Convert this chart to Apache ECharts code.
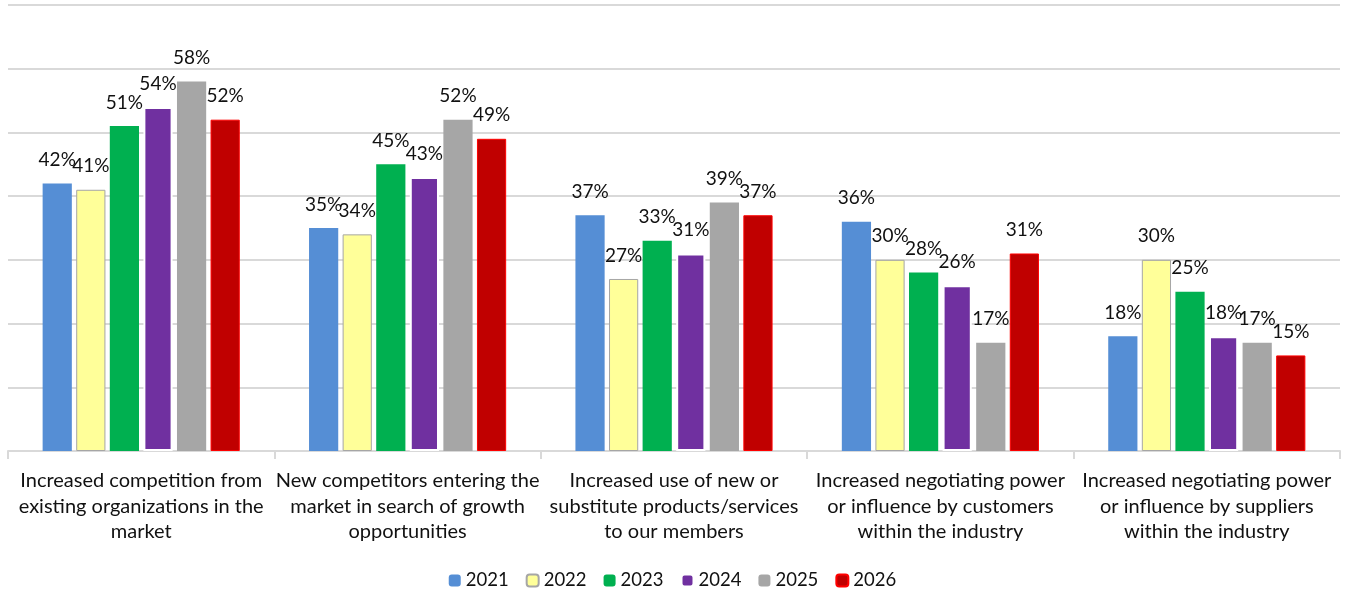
<!DOCTYPE html>
<html>
<head>
<meta charset="utf-8">
<script src="https://cdn.jsdelivr.net/npm/echarts@6/dist/echarts.min.js"></script>
<style>
  html, body { margin: 0; padding: 0; background: #fff; }
  #chart { width: 1345px; height: 596px; }
</style>
</head>
<body>
<div id="chart"></div>
<script>
// Competitive pressures, share of respondents by survey year
const categories = [
  'Increased competition from\nexisting organizations in the\nmarket',
  'New competitors entering the\nmarket in search of growth\nopportunities',
  'Increased use of new or\nsubstitute products/services\nto our members',
  'Increased negotiating power\nor influence by customers\nwithin the industry',
  'Increased negotiating power\nor influence by suppliers\nwithin the industry'
];
const years = ['2021', '2022', '2023', '2024', '2025', '2026'];
const values2021 = [42, 35, 37, 36, 18];
const values2022 = [41, 34, 27, 30, 30];
const values2023 = [51, 45, 33, 28, 25];
const values2024 = [54, 43, 31, 26, 18];
const values2025 = [58, 52, 39, 17, 17];
const values2026 = [52, 49, 37, 31, 15];

const seriesValues = [values2021, values2022, values2023, values2024, values2025, values2026];
const colors = ['#558ED5', '#FFFF99', '#00B050', '#7030A0', '#A6A6A6', '#C00000'];
const borders = [
  { borderColor: '#558ED5', borderWidth: 0 },
  { borderColor: '#A6A6A6', borderWidth: 1 },
  { borderColor: '#00B050', borderWidth: 0 },
  { borderColor: '#FFFFFF', borderWidth: 2 },
  { borderColor: '#A6A6A6', borderWidth: 0 },
  { borderColor: '#FF0000', borderWidth: 1 }
];

const FONT = 'Lato, Carlito, "Liberation Sans", sans-serif';
const TEXT = '#111111';

const chart = echarts.init(document.getElementById('chart'));
chart.setOption({
  animation: false,
  textStyle: { fontFamily: FONT },
  grid: { left: 8, right: 5, top: 5, bottom: 145, containLabel: false },
  legend: {
    data: years,
    bottom: 1,
    left: 'center',
    itemWidth: 12,
    itemHeight: 12,
    itemGap: 17,
    textStyle: { fontFamily: FONT, fontSize: 18.5, color: TEXT }
  },
  xAxis: {
    type: 'category',
    data: categories,
    axisLine: { lineStyle: { color: '#D9D9D9', width: 2 } },
    axisTick: { show: true, length: 8, lineStyle: { color: '#D9D9D9', width: 2 } },
    axisLabel: {
      interval: 0,
      margin: 17,
      fontFamily: FONT,
      fontSize: 20,
      lineHeight: 25.5,
      color: TEXT,
      align: 'center'
    }
  },
  yAxis: {
    type: 'value',
    min: 0,
    max: 70,
    interval: 10,
    axisLabel: { show: false },
    axisLine: { show: false },
    axisTick: { show: false },
    splitLine: { lineStyle: { color: '#D9D9D9', width: 2 } }
  },
  series: years.map((y, i) => ({
    name: y,
    type: 'bar',
    data: seriesValues[i],
    barGap: '15%',
    barCategoryGap: '26%',
    itemStyle: Object.assign({ color: colors[i] }, borders[i]),
    label: {
      show: true,
      position: 'top',
      distance: 14,
      formatter: p => p.value + '%',
      fontFamily: FONT,
      fontSize: 19,
      color: TEXT
    }
  }))
});
</script>
</body>
</html>
